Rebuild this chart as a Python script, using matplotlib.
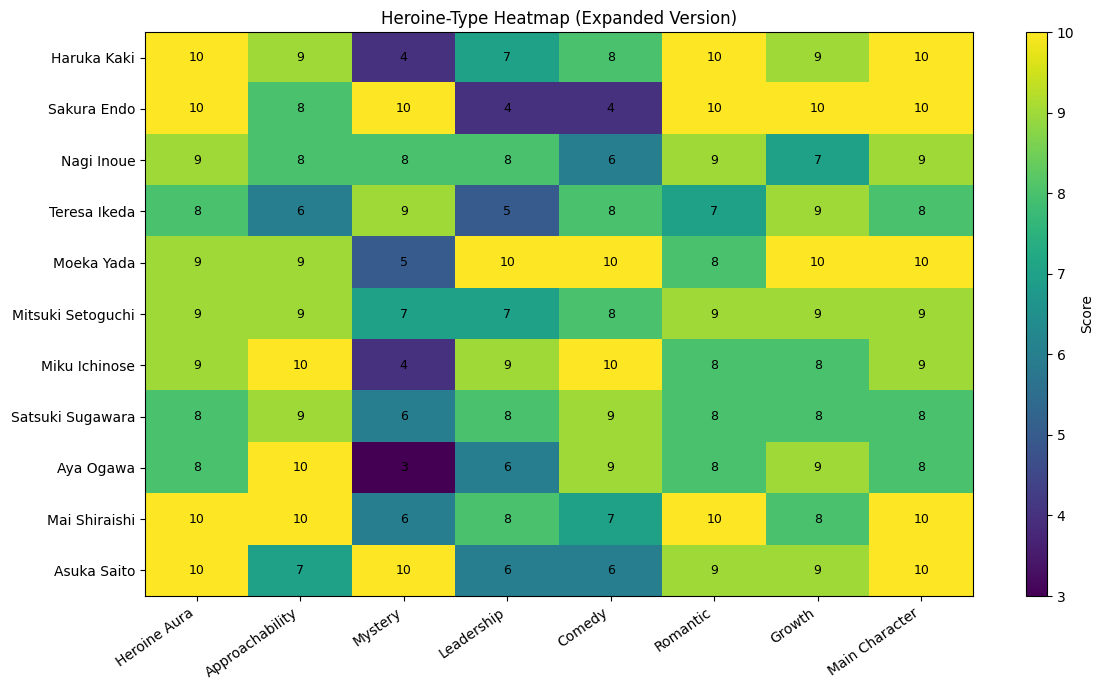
import numpy as np
import matplotlib
matplotlib.use("Agg")
from matplotlib import pyplot as plt

heroines = ["Haruka Kaki", "Sakura Endo", "Nagi Inoue", "Teresa Ikeda", "Moeka Yada",
            "Mitsuki Setoguchi", "Miku Ichinose", "Satsuki Sugawara", "Aya Ogawa",
            "Mai Shiraishi", "Asuka Saito"]
traits = ["Heroine Aura", "Approachability", "Mystery", "Leadership", "Comedy",
          "Romantic", "Growth", "Main Character"]
scores = [
    [10, 9, 4, 7, 8, 10, 9, 10],
    [10, 8, 10, 4, 4, 10, 10, 10],
    [9, 8, 8, 8, 6, 9, 7, 9],
    [8, 6, 9, 5, 8, 7, 9, 8],
    [9, 9, 5, 10, 10, 8, 10, 10],
    [9, 9, 7, 7, 8, 9, 9, 9],
    [9, 10, 4, 9, 10, 8, 8, 9],
    [8, 9, 6, 8, 9, 8, 8, 8],
    [8, 10, 3, 6, 9, 8, 9, 8],
    [10, 10, 6, 8, 7, 10, 8, 10],
    [10, 7, 10, 6, 6, 9, 9, 10],
]
data = np.array(scores)

fig = plt.figure(figsize=(11.09, 6.9), dpi=100)
ax = fig.add_axes([0.1307, 0.1362, 0.7466, 0.8174])
cax = fig.add_axes([0.925, 0.1362, 0.019, 0.8174])

im = ax.imshow(data, cmap="viridis", aspect="auto", vmin=3, vmax=10)
ax.set_xticks(range(len(traits)))
ax.set_xticklabels(traits, rotation=35, ha="right")
ax.set_yticks(range(len(heroines)))
ax.set_yticklabels(heroines)
ax.set_title("Heroine-Type Heatmap (Expanded Version)")

for i in range(data.shape[0]):
    for j in range(data.shape[1]):
        ax.text(j, i, str(data[i, j]), ha="center", va="center", fontsize=9, color="black")

cb = fig.colorbar(im, cax=cax)
cb.set_label("Score")

fig.savefig("out.png", dpi=100)
